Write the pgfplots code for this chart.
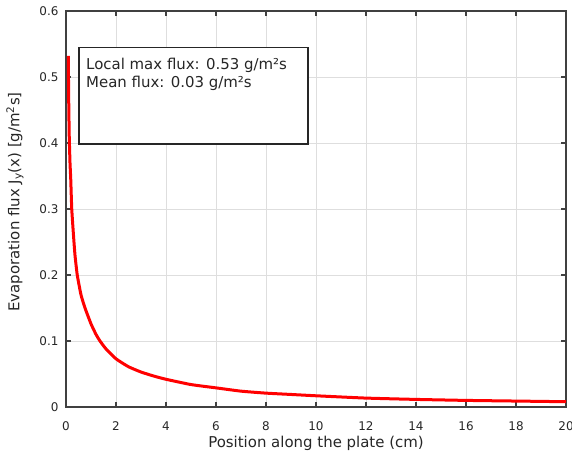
\documentclass[border=0pt]{standalone}
\usepackage{fontspec}
\setmainfont{DejaVu Sans}
\usepackage{pgfplots}
\pgfplotsset{compat=1.18}
\definecolor{axgray}{RGB}{64,64,64}
\definecolor{txtgray}{RGB}{38,38,38}
\definecolor{gridgray}{RGB}{222,222,222}
\begin{document}
\begin{tikzpicture}
\useasboundingbox (-66bp,-52bp) rectangle (506bp,407bp);
\begin{axis}[
  at={(0,0)}, anchor=south west,
  scale only axis, width=500bp, height=396bp,
  xmin=0, xmax=20, ymin=0, ymax=0.6,
  xtick={0,2,4,6,8,10,12,14,16,18,20},
  ytick={0,0.1,0.2,0.3,0.4,0.5,0.6},
  yticklabels={0,0.1,0.2,0.3,0.4,0.5,0.6},
  grid=major,
  major grid style={gridgray, line width=0.9bp},
  axis line style={axgray, line width=1.6bp},
  tick style={axgray, line width=1.2bp},
  tick align=inside, major tick length=5bp,
  ticklabel style={font=\fontsize{12}{14}\selectfont, text=txtgray},
  /pgf/number format/assume math mode=true,
  xticklabel style={anchor=center, yshift=-19bp},
  yticklabel style={anchor=east, xshift=-4bp},
  label style={font=\fontsize{15}{18}\selectfont, text=txtgray},
  xlabel={Position along the plate (cm)},
  ylabel={Evaporation flux J\textsubscript{y}(x) [g/m\textsuperscript{2}s]},
  xlabel style={at={(axis description cs:0.5,-0.093)}, anchor=center},
  ylabel style={at={(axis description cs:-0.102,0.518)}, anchor=center},
]
\addplot[red, line width=3bp, smooth, tension=0.3] coordinates {
(0.09,0.532) (0.11,0.46) (0.13,0.41) (0.16,0.37) (0.19,0.345) (0.23,0.30)
(0.30,0.26) (0.36,0.23) (0.45,0.20) (0.60,0.17) (0.76,0.15) (1.0,0.126)
(1.2,0.110) (1.36,0.10) (1.6,0.088) (2,0.073) (2.5,0.061) (3,0.053)
(3.5,0.047) (4,0.042) (5,0.034) (6,0.029) (7,0.024) (8,0.021) (9,0.019)
(10,0.017) (12,0.0135) (14,0.0115) (16,0.010) (18,0.009) (20,0.008)
};
\draw[txtgray, fill=white, line width=1.6bp] (axis cs:0.52,0.545) rectangle (axis cs:9.68,0.3985);
\node[anchor=west, inner sep=0pt, text=txtgray, font=\fontsize{15}{18}\selectfont] at (axis cs:0.8,0.518) {Local max flux: 0.53 g/m²s};
\node[anchor=west, inner sep=0pt, text=txtgray, font=\fontsize{15}{18}\selectfont] at (axis cs:0.8,0.491) {Mean flux: 0.03 g/m²s};
\end{axis}
\end{tikzpicture}
\end{document}
